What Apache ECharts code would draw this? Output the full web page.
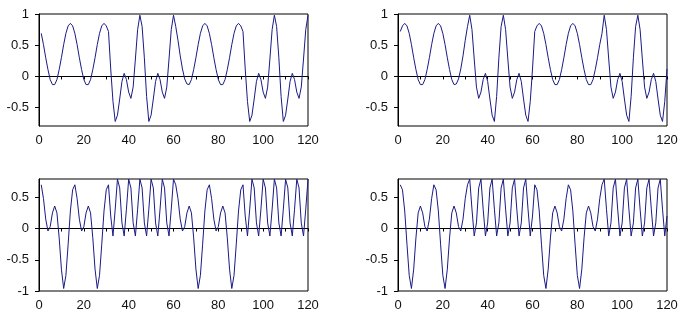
<!DOCTYPE html>
<html><head><meta charset="utf-8">
<script src="https://cdn.jsdelivr.net/npm/echarts@6/dist/echarts.min.js"></script>
<style>html,body{margin:0;padding:0;background:#fff}#c{width:687px;height:321px}</style>
</head><body><div id="c"></div>
<script>
// sample index of the first value (samples are at 1, 2, ..., 120)
const firstSample = 1;

const topLeft = [
 0.69,0.51,0.30,0.11,-0.05,-0.13,-0.13,-0.05,0.11,0.30,
 0.51,0.69,0.81,0.85,0.81,0.69,0.51,0.30,0.11,-0.05,
 -0.13,-0.13,-0.05,0.11,0.30,0.51,0.69,0.81,0.85,0.81,
 0.72,0.12,-0.40,-0.72,-0.62,-0.36,-0.08,0.05,-0.05,-0.25,
 -0.35,-0.17,0.28,0.75,0.98,0.80,0.30,-0.32,-0.72,-0.62,
 -0.36,-0.08,0.05,-0.05,-0.25,-0.35,-0.17,0.28,0.75,0.98,
 0.80,0.58,0.33,0.12,-0.04,-0.12,-0.13,-0.05,0.11,0.30,
 0.51,0.69,0.81,0.85,0.81,0.69,0.51,0.30,0.11,-0.05,
 -0.13,-0.13,-0.05,0.11,0.30,0.51,0.69,0.81,0.85,0.81,
 0.72,0.12,-0.40,-0.72,-0.62,-0.36,-0.08,0.05,-0.05,-0.25,
 -0.35,-0.17,0.28,0.75,0.98,0.80,0.30,-0.32,-0.72,-0.62,
 -0.36,-0.08,0.05,-0.05,-0.25,-0.35,-0.17,0.28,0.75,0.98
];
const topRight = [
 0.72,0.81,0.85,0.81,0.69,0.51,0.30,0.11,-0.05,-0.13,
 -0.13,-0.05,0.11,0.30,0.51,0.69,0.81,0.85,0.81,0.69,
 0.51,0.30,0.11,-0.05,-0.13,-0.12,-0.04,0.12,0.33,0.58,
 0.80,0.98,0.75,0.28,-0.17,-0.35,-0.25,-0.05,0.05,-0.08,
 -0.36,-0.62,-0.72,-0.32,0.30,0.80,0.98,0.75,0.28,-0.17,
 -0.35,-0.25,-0.05,0.05,-0.08,-0.36,-0.62,-0.72,-0.40,0.12,
 0.72,0.81,0.85,0.81,0.69,0.51,0.30,0.11,-0.05,-0.13,
 -0.13,-0.05,0.11,0.30,0.51,0.69,0.81,0.85,0.81,0.69,
 0.51,0.30,0.11,-0.05,-0.13,-0.13,-0.05,0.11,0.30,0.51,
 0.69,0.98,0.75,0.28,-0.17,-0.35,-0.25,-0.05,0.05,-0.08,
 -0.36,-0.62,-0.72,-0.32,0.30,0.80,0.98,0.75,0.28,-0.17,
 -0.35,-0.25,-0.05,0.05,-0.08,-0.36,-0.62,-0.72,-0.40,0.12
];
const bottomLeft = [
 0.70,0.48,0.15,-0.04,0.03,0.25,0.36,0.25,-0.15,-0.65,
 -0.96,-0.75,-0.25,0.28,0.62,0.70,0.48,0.15,-0.04,0.03,
 0.25,0.36,0.25,-0.15,-0.65,-0.96,-0.75,-0.25,0.28,0.62,
 0.70,0.20,-0.12,0.31,0.79,0.65,0.09,-0.12,0.31,0.79,
 0.65,0.09,-0.12,0.31,0.79,0.65,0.09,-0.12,0.31,0.79,
 0.65,0.09,-0.12,0.31,0.79,0.65,0.09,-0.12,0.31,0.79,
 0.70,0.48,0.15,-0.04,0.03,0.25,0.36,0.25,-0.15,-0.65,
 -0.96,-0.75,-0.25,0.28,0.62,0.70,0.48,0.15,-0.04,0.03,
 0.25,0.36,0.25,-0.15,-0.65,-0.96,-0.75,-0.25,0.28,0.62,
 0.70,0.20,-0.12,0.31,0.79,0.65,0.09,-0.12,0.31,0.79,
 0.65,0.09,-0.12,0.31,0.79,0.65,0.09,-0.12,0.31,0.79,
 0.65,0.09,-0.12,0.31,0.79,0.65,0.09,-0.12,0.31,0.79
];
const bottomRight = [
 0.70,0.62,0.28,-0.25,-0.75,-0.96,-0.65,-0.15,0.25,0.36,
 0.25,0.03,-0.04,0.15,0.48,0.70,0.62,0.28,-0.25,-0.75,
 -0.96,-0.65,-0.15,0.25,0.36,0.25,0.03,-0.04,0.15,0.48,
 0.70,0.79,0.31,-0.12,0.09,0.65,0.79,0.31,-0.12,0.09,
 0.65,0.79,0.31,-0.12,0.09,0.65,0.79,0.31,-0.12,0.09,
 0.65,0.79,0.31,-0.12,0.09,0.65,0.79,0.31,-0.12,0.20,
 0.70,0.62,0.28,-0.25,-0.75,-0.96,-0.65,-0.15,0.25,0.36,
 0.25,0.03,-0.04,0.15,0.48,0.70,0.62,0.28,-0.25,-0.75,
 -0.96,-0.65,-0.15,0.25,0.36,0.25,0.03,-0.04,0.15,0.48,
 0.70,0.79,0.31,-0.12,0.09,0.65,0.79,0.31,-0.12,0.09,
 0.65,0.79,0.31,-0.12,0.09,0.65,0.79,0.31,-0.12,0.09,
 0.65,0.79,0.31,-0.12,0.09,0.65,0.79,0.31,-0.12,0.20
];

const xRange = [0, 120];
const xLabelStep = 20;
const topYRange = [-0.7926, 1];
const bottomYRange = [-1, 0.7926];
const topYTicks = [-0.5, 0, 0.5, 1];
const bottomYTicks = [-1, -0.5, 0, 0.5];

const panels = [
  {data: topLeft,     yRange: topYRange,    yTicks: topYTicks,    left: 39,  top: 14},
  {data: topRight,    yRange: topYRange,    yTicks: topYTicks,    left: 398, top: 14},
  {data: bottomLeft,  yRange: bottomYRange, yTicks: bottomYTicks, left: 39,  top: 179},
  {data: bottomRight, yRange: bottomYRange, yTicks: bottomYTicks, left: 398, top: 179}
];

const font = {fontFamily: 'Liberation Sans, Arial, sans-serif', fontSize: 13, color: '#111'};
const black = {color: '#000', width: 1};

const option = {
  animation: false,
  backgroundColor: '#fff',
  grid: panels.map(p => ({left: p.left, top: p.top, width: 269, height: 112,
    show: true, borderColor: '#000', borderWidth: 1, backgroundColor: 'transparent'})),
  xAxis: panels.map((p, i) => ({
    gridIndex: i, type: 'value', min: xRange[0], max: xRange[1], interval: xLabelStep,
    axisLine: {show: true, lineStyle: black},
    axisTick: {show: true, length: 3, lineStyle: black},
    minorTick: {show: true, splitNumber: 2, length: 3, lineStyle: black},
    splitLine: {show: false}, minorSplitLine: {show: false},
    axisLabel: Object.assign({margin: 8}, font)
  })),
  yAxis: panels.map((p, i) => ({
    gridIndex: i, type: 'value', min: p.yRange[0], max: p.yRange[1],
    axisLine: {show: true, lineStyle: black},
    axisTick: {show: true, length: 4, lineStyle: black, customValues: p.yTicks},
    axisLabel: Object.assign({margin: 10, customValues: p.yTicks}, font),
    splitLine: {show: false}
  })),
  series: panels.map((p, i) => ({
    type: 'line', xAxisIndex: i, yAxisIndex: i, showSymbol: false, silent: true,
    lineStyle: {color: '#1a1a86', width: 1},
    data: p.data.map((v, k) => [firstSample + k, v])
  }))
};
const chart = echarts.init(document.getElementById('c'), null, {renderer: 'canvas'});
chart.setOption(option);
</script></body></html>
